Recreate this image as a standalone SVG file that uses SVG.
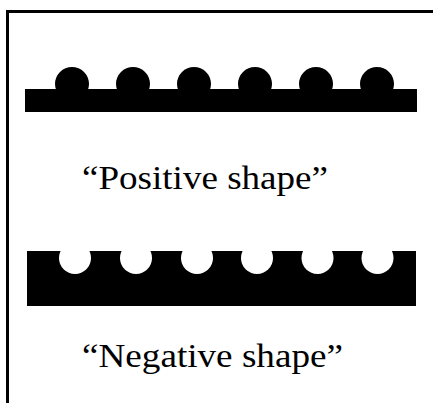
<svg xmlns="http://www.w3.org/2000/svg" width="433" height="403" viewBox="0 0 433 403">
<style>
.lbl{font-family:"Liberation Serif","Times New Roman",serif;font-size:34px;fill:#000}
.ink{fill:#000}
</style>
<rect x="0" y="0" width="433" height="403" fill="#fff"/>
<rect x="7.5" y="11.5" width="500" height="500" fill="none" stroke="#000" stroke-width="3"/>
<g id="positive">
<rect class="ink" x="25" y="89" width="392" height="23"/>
<circle class="ink" cx="72" cy="84" r="17"/>
<circle class="ink" cx="133" cy="84" r="17"/>
<circle class="ink" cx="194" cy="84" r="17"/>
<circle class="ink" cx="255" cy="84" r="17"/>
<circle class="ink" cx="316" cy="84" r="17"/>
<circle class="ink" cx="377" cy="84" r="17"/>
</g>
<g id="positive-label"><text class="lbl" x="82" y="189" textLength="246" lengthAdjust="spacingAndGlyphs">“Positive shape”</text></g>
<g id="negative">
<rect class="ink" x="27" y="251" width="389" height="55"/>
<circle fill="#fff" cx="75" cy="258" r="16"/>
<circle fill="#fff" cx="136" cy="258" r="16"/>
<circle fill="#fff" cx="197" cy="258" r="16"/>
<circle fill="#fff" cx="257" cy="258" r="16"/>
<circle fill="#fff" cx="317.5" cy="258" r="16"/>
<circle fill="#fff" cx="377.5" cy="258" r="16"/>
</g>
<g id="negative-label"><text class="lbl" x="82" y="367" textLength="261" lengthAdjust="spacingAndGlyphs">“Negative shape”</text></g>
<g id="connectors"></g>
</svg>
